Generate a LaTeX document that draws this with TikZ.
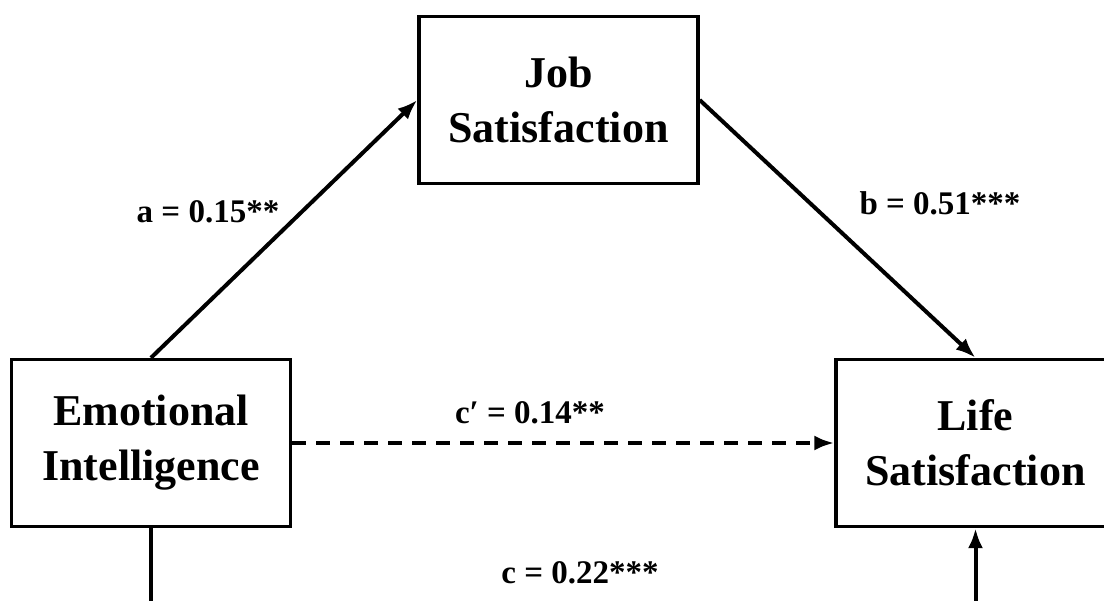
\documentclass[tikz,border=0pt]{standalone}
\usepackage{fontspec}
\setmainfont{Liberation Serif}
\usetikzlibrary{positioning, arrows.meta}

\begin{document}
\begin{tikzpicture}[
  x=1pt, y=-1pt,
  >={Latex[length=20pt, width=15pt]},
  var/.style={draw, line width=3.4pt, minimum width=279pt, minimum height=167pt,
    inner sep=0pt, align=center, font=\fontsize{44}{55}\selectfont\bfseries},
  link/.style={line width=4pt},
  coef/.style={inner sep=0pt, font=\fontsize{33}{38}\selectfont\bfseries},
]

% ---- page frame ----
\useasboundingbox (0,0) rectangle (1104,601);
\clip (0,0) rectangle (1104,601);

% ---- variables ----
\node[var] (job) at (558.5,100)  {Job\\Satisfaction};
\node[var] (emo) at (151,443)    {Emotional\\Intelligence};
\node[var] (life) at (975.5,443) {Life\\Satisfaction};

% ---- loose ends below the picture ----
\coordinate (emodown) at (151,620);
\coordinate (lifedown) at (975.5,620);

% ---- paths ----
\draw[link, ->] (emo.north) -- (job.west);
\draw[link, ->] (job.east) -- (life.north);
\draw[link, ->, dash pattern=on 14pt off 10pt] (emo.east) -- (life.west);
\draw[link] (emo.south) -- (emodown);
\draw[link, ->] (lifedown) -- (life.south);

% ---- coefficients ----
\node[coef] (pa) at (208,212)  {a = 0.15**};
\node[coef] (pb) at (940,203)  {b = 0.51***};
\node[coef] (pcp) at (530,413) {c′ = 0.14**};
\node[coef] (pc) at (580,573)  {c = 0.22***};

\end{tikzpicture}
\end{document}
